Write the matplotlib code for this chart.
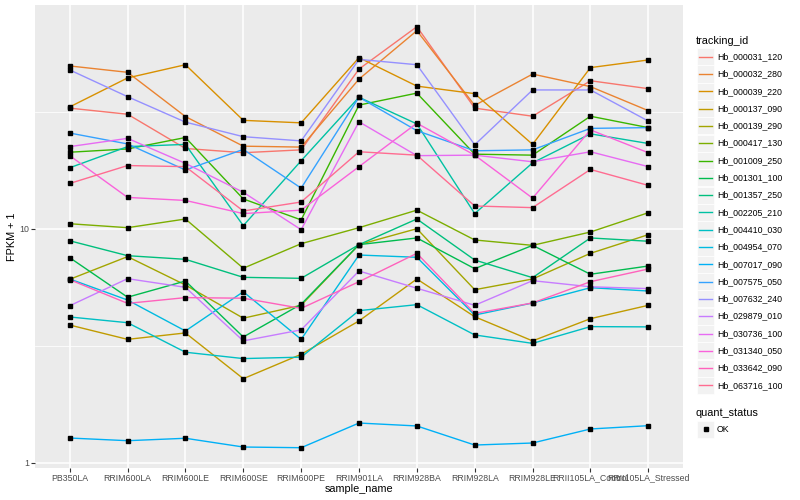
import matplotlib
matplotlib.use("Agg")
import matplotlib.pyplot as plt
from matplotlib.lines import Line2D
from matplotlib.patches import Rectangle
from matplotlib.ticker import FixedLocator, NullFormatter

plt.rcParams['font.family'] = ['Liberation Sans', 'DejaVu Sans']

samples = ["PB350LA", "RRIM600LA", "RRIM600LE", "RRIM600SE", "RRIM600PE",
           "RRIM901LA", "RRIM928BA", "RRIM928LA", "RRIM928LE",
           "RRII105LA_Control", "RRII105LA_Stressed"]

tracking_ids = ["Hb_000031_120", "Hb_000032_280", "Hb_000039_220", "Hb_000137_090",
                "Hb_000139_290", "Hb_000417_130", "Hb_001009_250", "Hb_001301_100",
                "Hb_001357_250", "Hb_002205_210", "Hb_004410_030", "Hb_004954_070",
                "Hb_007017_090", "Hb_007575_050", "Hb_007632_240", "Hb_029879_010",
                "Hb_030736_100", "Hb_031340_050", "Hb_033642_090", "Hb_063716_100"]

hb_000031_120 = [32.7, 30.8, 22.0, 21.1, 21.7, 48.0, 72.8, 32.7, 30.2, 42.8, 39.6]
hb_000032_280 = [49.5, 46.5, 30.1, 22.5, 22.3, 43.5, 70.0, 33.6, 45.7, 40.4, 31.9]
hb_000039_220 = [33.1, 44.0, 50.1, 29.0, 28.3, 53.7, 40.6, 37.7, 22.9, 48.7, 52.5]
hb_000137_090 = [3.88, 3.37, 3.59, 2.29, 2.91, 4.04, 6.10, 4.21, 3.32, 4.13, 4.71]
hb_000139_290 = [6.08, 7.60, 5.75, 4.15, 4.71, 8.55, 10.0, 5.49, 6.10, 7.85, 9.43]
hb_000417_130 = [10.5, 10.1, 11.0, 6.78, 8.63, 10.1, 12.0, 8.95, 8.49, 9.68, 11.7]
hb_001009_250 = [21.2, 21.9, 24.5, 13.4, 10.9, 33.7, 37.9, 20.8, 20.6, 30.2, 27.0]
hb_001301_100 = [7.52, 5.10, 5.98, 3.45, 4.76, 8.55, 9.13, 6.75, 8.49, 6.39, 6.93]
hb_001357_250 = [8.88, 7.67, 7.40, 6.20, 6.14, 8.55, 11.0, 7.35, 6.18, 9.13, 8.84]
hb_002205_210 = [18.2, 22.4, 22.9, 10.3, 19.5, 36.4, 28.0, 11.6, 19.1, 25.4, 23.1]
hb_004410_030 = [4.20, 3.97, 2.97, 2.79, 2.83, 4.47, 4.74, 3.52, 3.24, 3.82, 3.81]
hb_004954_070 = [6.10, 4.96, 3.66, 5.38, 3.37, 7.72, 7.55, 4.28, 4.82, 5.60, 5.42]
hb_007017_090 = [1.278, 1.245, 1.275, 1.170, 1.162, 1.481, 1.439, 1.193, 1.217, 1.397, 1.443]
hb_007575_050 = [25.6, 23.0, 17.8, 21.8, 14.9, 36.4, 26.2, 21.5, 21.7, 26.8, 27.0]
hb_007632_240 = [47.6, 36.6, 28.5, 24.7, 23.7, 52.8, 50.1, 22.8, 39.1, 39.1, 28.8]
hb_029879_010 = [4.69, 6.12, 5.62, 3.32, 3.70, 6.60, 5.57, 4.71, 6.00, 5.65, 5.55]
hb_030736_100 = [22.4, 24.3, 19.0, 14.3, 9.9, 28.6, 20.5, 20.6, 19.3, 21.3, 18.4]
hb_031340_050 = [20.5, 13.6, 13.2, 11.6, 12.0, 18.4, 28.2, 20.6, 13.5, 26.4, 21.1]
hb_033642_090 = [6.06, 4.80, 5.08, 5.05, 4.57, 5.94, 7.85, 4.35, 4.82, 5.94, 6.73]
hb_063716_100 = [15.6, 18.6, 18.4, 11.9, 13.0, 21.3, 20.6, 12.5, 12.3, 17.9, 15.3]

series = [hb_000031_120, hb_000032_280, hb_000039_220, hb_000137_090, hb_000139_290,
          hb_000417_130, hb_001009_250, hb_001301_100, hb_001357_250, hb_002205_210,
          hb_004410_030, hb_004954_070, hb_007017_090, hb_007575_050, hb_007632_240,
          hb_029879_010, hb_030736_100, hb_031340_050, hb_033642_090, hb_063716_100]

colors = ["#F8766D", "#EA8331", "#D89000", "#C09B00", "#A3A500", "#7CAE00", "#39B600",
          "#00BB4E", "#00BF7D", "#00C1A3", "#00BFC4", "#00BAE0", "#00B0F6", "#35A2FF",
          "#9590FF", "#C77CFF", "#E76BF3", "#FA62DB", "#FF62BC", "#FF6C91"]

quant_levels = ["OK"]

W, H = 800, 500
fig = plt.figure(figsize=(8, 5), dpi=100)
ax = fig.add_axes([35 / W, 1 - 468 / H, (683 - 35) / W, (468 - 5) / H])
ax.set_facecolor('#EBEBEB')
for s in ax.spines.values():
    s.set_visible(False)

x = list(range(1, len(samples) + 1))
for vals, col in zip(series, colors):
    ax.plot(x, vals, color=col, lw=1.0, zorder=2, solid_capstyle='butt')
for vals in series:
    ax.plot(x, vals, ls='none', marker='s', ms=2.6, color='black', zorder=3)

ax.set_yscale('log')
ax.set_ylim(0.952, 90.1)
ax.set_xlim(0.4, len(samples) + 0.6)
ax.set_xticks(x)
ax.set_xticklabels(samples)
ax.set_yticks([1, 10])
ax.set_yticklabels(['1', '10'])
ax.yaxis.set_minor_locator(FixedLocator([10 ** 0.5, 10 ** 1.5]))
ax.yaxis.set_minor_formatter(NullFormatter())
ax.tick_params(which='minor', length=0)
ax.tick_params(which='major', length=2.6, width=0.8, color='#333333',
               labelcolor='#4D4D4D', labelsize=6.3, pad=1.5)
ax.grid(which='major', color='white', lw=1.15)
ax.grid(which='minor', axis='y', color='white', lw=0.55)
ax.set_axisbelow(True)

ax.set_xlabel('sample_name', fontsize=7.8, color='black')
ax.xaxis.label.set_va('center')
ax.xaxis.set_label_coords(0.5, -(489 - 468) / 463)
ax.set_ylabel('FPKM + 1', fontsize=7.8, color='black')
ax.yaxis.label.set_va('center')
ax.yaxis.set_label_coords(-(35 - 12) / 648, 0.5)

def fx(px):
    return px / W

def fy(py):
    return 1 - py / H

# legend: tracking_id
fig.text(fx(696), fy(40.5), 'tracking_id', fontsize=7.8, va='center', ha='left')
y0, dy = 56.7, 17.3
for i, (name, col) in enumerate(zip(tracking_ids, colors)):
    cy = y0 + i * dy
    fig.add_artist(Rectangle((fx(697), fy(cy + 8.5)), 17 / W, 17 / H,
                             transform=fig.transFigure, facecolor='#F2F2F2',
                             edgecolor='white', lw=0.5))
    fig.add_artist(Line2D([fx(698.5), fx(711.5)], [fy(cy), fy(cy)],
                          transform=fig.transFigure, color=col, lw=1.0))
    fig.text(fx(717), fy(cy), name, fontsize=6.3, va='center', ha='left')

# legend: quant_status
fig.text(fx(696), fy(412.5), 'quant_status', fontsize=7.8, va='center', ha='left')
for j, lvl in enumerate(quant_levels):
    cy = 429 + j * dy
    fig.add_artist(Rectangle((fx(697), fy(cy + 8.5)), 17 / W, 17 / H,
                             transform=fig.transFigure, facecolor='#F2F2F2',
                             edgecolor='white', lw=0.5))
    fig.add_artist(Line2D([fx(705.5)], [fy(cy)], transform=fig.transFigure,
                          ls='none', marker='s', ms=2.6, color='black'))
    fig.text(fx(717), fy(cy), lvl, fontsize=6.3, va='center', ha='left')

fig.savefig('out.png', dpi=100, facecolor='white')
